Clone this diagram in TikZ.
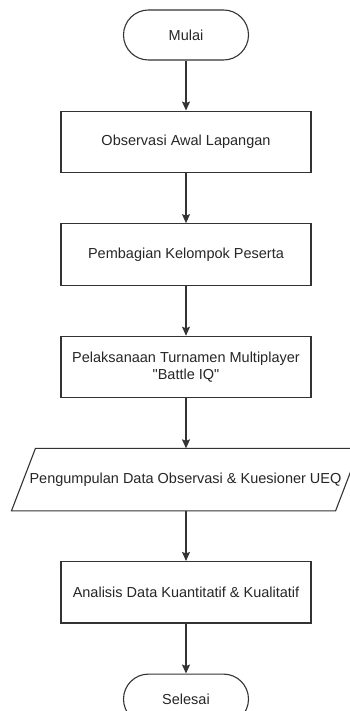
\documentclass[tikz,border=0pt]{standalone}
\usepackage{fontspec}
\setmainfont{Liberation Sans}
\usetikzlibrary{arrows.meta, positioning, calc}

\begin{document}
\begin{tikzpicture}[
    x=1pt, y=1pt,
    base/.style={text=black!85, font=\fontsize{14.5}{17.5}\selectfont,
                 align=center, line width=1.1pt},
    term/.style={base, draw=black!80, rounded corners=25pt,
                 minimum width=125pt, minimum height=50pt},
    proc/.style={base, draw=black!80, minimum width=250pt,
                 minimum height=61.5pt},
    io/.style={base, minimum width=323pt, minimum height=61.5pt},
    flow/.style={->, line width=1.1pt, draw=black!80},
    >={Stealth[length=9pt, width=8pt, inset=1.5pt]},
    node distance=50pt
  ]
  \useasboundingbox (0,0) rectangle (350,711);

  % Start
  \node[term] (mulai) at (186,676) {Mulai};

  % Steps
  \node[proc, below=of mulai] (obs) {Observasi Awal Lapangan};
  \node[proc, below=of obs] (bagi) {Pembagian Kelompok Peserta};
  \node[proc, below=of bagi] (turn)
    {Pelaksanaan Turnamen Multiplayer\\\textquotedbl Battle IQ\textquotedbl};

  % Data collection (parallelogram)
  \node[io, below=of turn, xshift=-0.5pt] (kumpul)
    {Pengumpulan Data Observasi \& Kuesioner UEQ};
  \draw[base, draw=black!80] ([xshift=-12pt]kumpul.south west)
    -- ([xshift=-12pt]kumpul.south east)
    -- ([xshift=12pt]kumpul.north east)
    -- ([xshift=12pt]kumpul.north west) -- cycle;

  \node[proc, below=of kumpul, xshift=0.5pt] (analisis)
    {Analisis Data Kuantitatif \& Kualitatif};

  % End
  \node[term, below=of analisis] (selesai) {Selesai};

  % Connectors
  \draw[flow] (mulai) -- (obs);
  \draw[flow] (obs) -- (bagi);
  \draw[flow] (bagi) -- (turn);
  \draw[flow] (turn.south) -- (turn.south |- kumpul.north);
  \draw[flow] (analisis.north |- kumpul.south) -- (analisis);
  \draw[flow] (analisis) -- (selesai);
\end{tikzpicture}
\end{document}
